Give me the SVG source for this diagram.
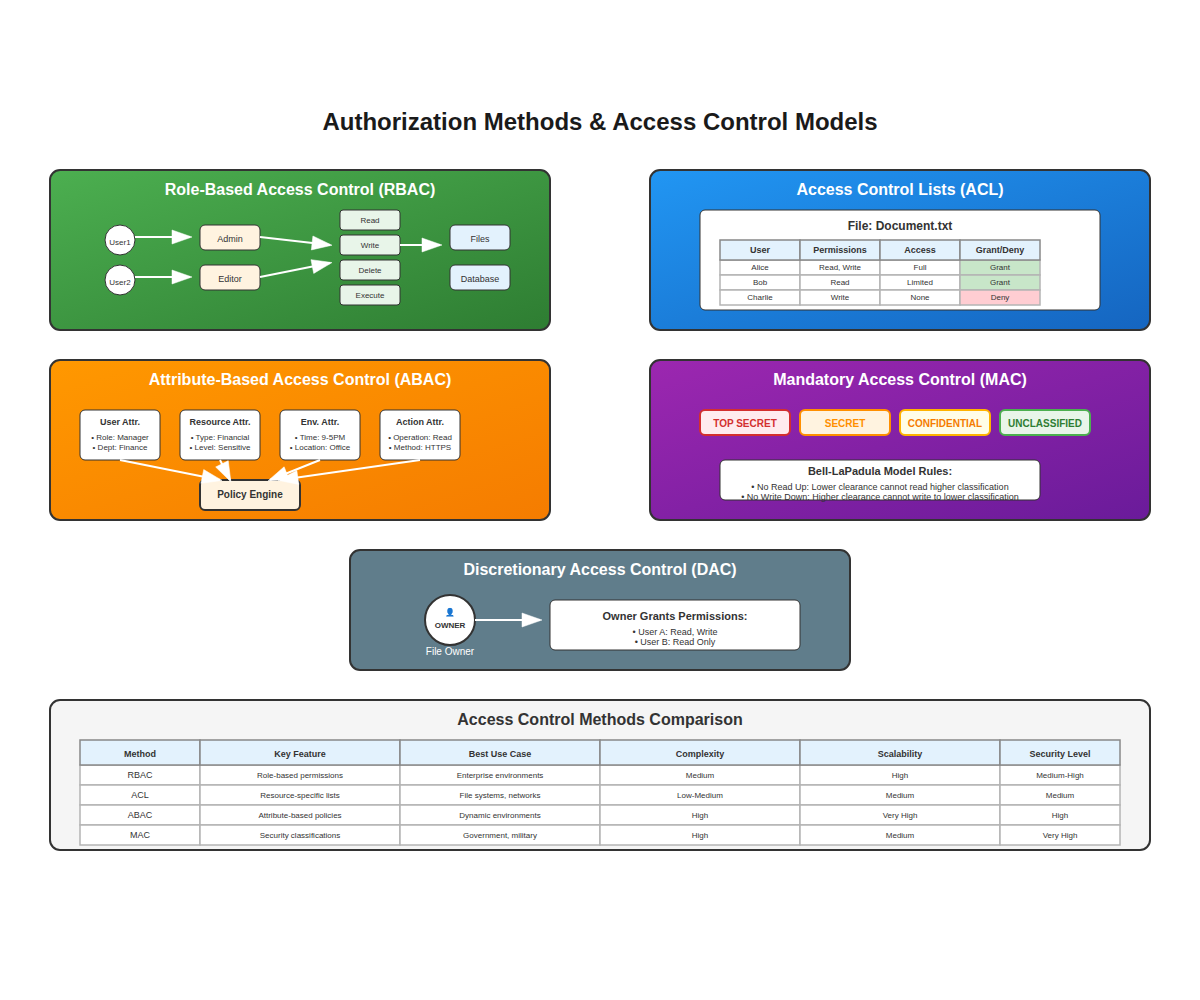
<svg xmlns="http://www.w3.org/2000/svg" width="1200" height="1000" viewBox="0 0 1200 1000">
<style>
text{font-family:"Liberation Sans",Arial,sans-serif;text-anchor:middle;fill:#333}
.panel{stroke:#333;stroke-width:2}
.ttl{font-size:16px;font-weight:bold;fill:#fff}
.n{stroke:#333;stroke-width:1}
.s9{font-size:9px}
.s8{font-size:8px}
.b9{font-size:9px;font-weight:bold}
.b12{font-size:12px;font-weight:bold}
.cn{stroke:#fff;stroke-width:2;fill:none}
.th{fill:#e3f2fd;stroke:#888;stroke-width:1.5}
.td{fill:#fff;stroke:#b4b4b4;stroke-width:1.5}
.lv{stroke-width:2}
.lt{font-size:10px;font-weight:bold}
</style>
<defs>
<linearGradient id="gR" x1="0" y1="0" x2="1" y2="1"><stop offset="0" stop-color="#4caf50"/><stop offset="1" stop-color="#2e7d32"/></linearGradient>
<linearGradient id="gA" x1="0" y1="0" x2="1" y2="1"><stop offset="0" stop-color="#2196f3"/><stop offset="1" stop-color="#1565c0"/></linearGradient>
<linearGradient id="gB" x1="0" y1="0" x2="1" y2="1"><stop offset="0" stop-color="#ff9800"/><stop offset="1" stop-color="#f57c00"/></linearGradient>
<linearGradient id="gM" x1="0" y1="0" x2="1" y2="1"><stop offset="0" stop-color="#9c27b0"/><stop offset="1" stop-color="#6a1b9a"/></linearGradient>
<marker id="arr" markerWidth="10" markerHeight="7" refX="9" refY="3.5" orient="auto" overflow="visible"><polygon points="0 0,10 3.5,0 7" fill="#fff" stroke="#fff" stroke-width="0.25"/></marker>
</defs>
<rect width="1200" height="1000" fill="#fff"/>
<text id="title" x="600" y="130" font-size="24" font-weight="bold" style="fill:#1a1a1a">Authorization Methods &amp; Access Control Models</text>

<g id="rbac">
<rect class="panel" x="50" y="170" width="500" height="160" rx="10" fill="url(#gR)"/>
<text class="ttl" x="300" y="195">Role-Based Access Control (RBAC)</text>
<g id="user1"><circle class="n" cx="120" cy="240" r="15" fill="#fff"/><text class="s8" x="120" y="245">User1</text></g>
<g id="user2"><circle class="n" cx="120" cy="280" r="15" fill="#fff"/><text class="s8" x="120" y="285">User2</text></g>
<g id="admin"><rect class="n" x="200" y="225" width="60" height="25" rx="5" fill="#fff3e0"/><text class="s9" x="230" y="242">Admin</text></g>
<g id="editor"><rect class="n" x="200" y="265" width="60" height="25" rx="5" fill="#fff3e0"/><text class="s9" x="230" y="282">Editor</text></g>
<g id="read"><rect class="n" x="340" y="210" width="60" height="20" rx="3" fill="#e8f5e9"/><text class="s8" x="370" y="223">Read</text></g>
<g id="write"><rect class="n" x="340" y="235" width="60" height="20" rx="3" fill="#e8f5e9"/><text class="s8" x="370" y="248">Write</text></g>
<g id="delete"><rect class="n" x="340" y="260" width="60" height="20" rx="3" fill="#e8f5e9"/><text class="s8" x="370" y="273">Delete</text></g>
<g id="execute"><rect class="n" x="340" y="285" width="60" height="20" rx="3" fill="#e8f5e9"/><text class="s8" x="370" y="298">Execute</text></g>
<g id="files"><rect class="n" x="450" y="225" width="60" height="25" rx="5" fill="#e3f2fd"/><text class="s9" x="480" y="242">Files</text></g>
<g id="database"><rect class="n" x="450" y="265" width="60" height="25" rx="5" fill="#e3f2fd"/><text class="s9" x="480" y="282">Database</text></g>
</g>

<g id="acl">
<rect class="panel" x="650" y="170" width="500" height="160" rx="10" fill="url(#gA)"/>
<text class="ttl" x="900" y="195">Access Control Lists (ACL)</text>
<rect class="n" x="700" y="210" width="400" height="100" rx="5" fill="#fff"/>
<text class="b12" x="900" y="230">File: Document.txt</text>
<rect class="td" x="720" y="260" width="80" height="15"/><text class="s8" x="760" y="270">Alice</text>
<rect class="td" x="800" y="260" width="80" height="15"/><text class="s8" x="840" y="270">Read, Write</text>
<rect class="td" x="880" y="260" width="80" height="15"/><text class="s8" x="920" y="270">Full</text>
<rect class="td" x="960" y="260" width="80" height="15" style="fill:#c8e6c9"/><text class="s8" x="1000" y="270">Grant</text>
<rect class="td" x="720" y="275" width="80" height="15"/><text class="s8" x="760" y="285">Bob</text>
<rect class="td" x="800" y="275" width="80" height="15"/><text class="s8" x="840" y="285">Read</text>
<rect class="td" x="880" y="275" width="80" height="15"/><text class="s8" x="920" y="285">Limited</text>
<rect class="td" x="960" y="275" width="80" height="15" style="fill:#c8e6c9"/><text class="s8" x="1000" y="285">Grant</text>
<rect class="td" x="720" y="290" width="80" height="15"/><text class="s8" x="760" y="300">Charlie</text>
<rect class="td" x="800" y="290" width="80" height="15"/><text class="s8" x="840" y="300">Write</text>
<rect class="td" x="880" y="290" width="80" height="15"/><text class="s8" x="920" y="300">None</text>
<rect class="td" x="960" y="290" width="80" height="15" style="fill:#ffcdd2"/><text class="s8" x="1000" y="300">Deny</text>
<rect class="th" x="720" y="240" width="80" height="20"/><text class="b9" x="760" y="253">User</text>
<rect class="th" x="800" y="240" width="80" height="20"/><text class="b9" x="840" y="253">Permissions</text>
<rect class="th" x="880" y="240" width="80" height="20"/><text class="b9" x="920" y="253">Access</text>
<rect class="th" x="960" y="240" width="80" height="20"/><text class="b9" x="1000" y="253">Grant/Deny</text>
</g>

<g id="abac">
<rect class="panel" x="50" y="360" width="500" height="160" rx="10" fill="url(#gB)"/>
<text class="ttl" x="300" y="385">Attribute-Based Access Control (ABAC)</text>
<g id="user-attr"><rect class="n" x="80" y="410" width="80" height="50" rx="5" fill="#fff"/><text class="b9" x="120" y="425">User Attr.</text><text class="s8" x="120" y="440">• Role: Manager</text><text class="s8" x="120" y="450">• Dept: Finance</text></g>
<g id="resource-attr"><rect class="n" x="180" y="410" width="80" height="50" rx="5" fill="#fff"/><text class="b9" x="220" y="425">Resource Attr.</text><text class="s8" x="220" y="440">• Type: Financial</text><text class="s8" x="220" y="450">• Level: Sensitive</text></g>
<g id="env-attr"><rect class="n" x="280" y="410" width="80" height="50" rx="5" fill="#fff"/><text class="b9" x="320" y="425">Env. Attr.</text><text class="s8" x="320" y="440">• Time: 9-5PM</text><text class="s8" x="320" y="450">• Location: Office</text></g>
<g id="action-attr"><rect class="n" x="380" y="410" width="80" height="50" rx="5" fill="#fff"/><text class="b9" x="420" y="425">Action Attr.</text><text class="s8" x="420" y="440">• Operation: Read</text><text class="s8" x="420" y="450">• Method: HTTPS</text></g>
<g id="policy-engine"><rect x="200" y="480" width="100" height="30" rx="5" fill="#fff3e0" stroke="#333" stroke-width="2"/><text x="250" y="498" style="font-size:10px;font-weight:bold">Policy Engine</text></g>
</g>

<g id="mac">
<rect class="panel" x="650" y="360" width="500" height="160" rx="10" fill="url(#gM)"/>
<text class="ttl" x="900" y="385">Mandatory Access Control (MAC)</text>
<g id="top-secret"><rect class="lv" x="700" y="410" width="90" height="25" rx="5" fill="#ffebee" stroke="#d32f2f"/><text class="lt" x="745" y="427" style="fill:#d32f2f">TOP SECRET</text></g>
<g id="secret"><rect class="lv" x="800" y="410" width="90" height="25" rx="5" fill="#fff3e0" stroke="#ff8f00"/><text class="lt" x="845" y="427" style="fill:#ff8f00">SECRET</text></g>
<g id="confidential"><rect class="lv" x="900" y="410" width="90" height="25" rx="5" fill="#fffde7" stroke="#ffb300"/><text class="lt" x="945" y="427" style="fill:#f57c00">CONFIDENTIAL</text></g>
<g id="unclassified"><rect class="lv" x="1000" y="410" width="90" height="25" rx="5" fill="#e8f5e9" stroke="#4caf50"/><text class="lt" x="1045" y="427" style="fill:#2e7d32">UNCLASSIFIED</text></g>
<g id="rules"><rect class="n" x="720" y="460" width="320" height="40" rx="5" fill="#fff"/><text x="880" y="475" style="font-size:11px;font-weight:bold">Bell-LaPadula Model Rules:</text><text class="s9" x="880" y="490">• No Read Up: Lower clearance cannot read higher classification</text><text class="s9" x="880" y="500">• No Write Down: Higher clearance cannot write to lower classification</text></g>
</g>

<g id="dac">
<rect class="panel" x="350" y="550" width="500" height="120" rx="10" fill="#607d8b"/>
<text class="ttl" x="600" y="575">Discretionary Access Control (DAC)</text>
<g id="owner"><circle cx="450" cy="620" r="25" fill="#fff" stroke="#333" stroke-width="2"/><text x="450" y="615" style="font-size:8px;font-family:'Noto Sans CJK SC','DejaVu Sans',sans-serif">👤</text><text class="s8" x="450" y="628" style="font-weight:bold">OWNER</text><text x="450" y="655" style="font-size:10px;fill:#fff">File Owner</text></g>
<g id="grants"><rect class="n" x="550" y="600" width="250" height="50" rx="5" fill="#fff"/><text x="675" y="620" style="font-size:11px;font-weight:bold">Owner Grants Permissions:</text><text class="s9" x="675" y="635">• User A: Read, Write</text><text class="s9" x="675" y="645">• User B: Read Only</text></g>
</g>

<g id="comparison">
<rect class="panel" x="50" y="700" width="1100" height="150" rx="10" fill="#f5f5f5"/>
<text x="600" y="725" font-size="16" font-weight="bold">Access Control Methods Comparison</text>

<rect class="td" x="80" y="765" width="120" height="20"/><rect class="td" x="200" y="765" width="200" height="20"/><rect class="td" x="400" y="765" width="200" height="20"/><rect class="td" x="600" y="765" width="200" height="20"/><rect class="td" x="800" y="765" width="200" height="20"/><rect class="td" x="1000" y="765" width="120" height="20"/>
<text class="s9" x="140" y="778">RBAC</text><text class="s8" x="300" y="778">Role-based permissions</text><text class="s8" x="500" y="778">Enterprise environments</text><text class="s8" x="700" y="778">Medium</text><text class="s8" x="900" y="778">High</text><text class="s8" x="1060" y="778">Medium-High</text>

<rect class="td" x="80" y="785" width="120" height="20"/><rect class="td" x="200" y="785" width="200" height="20"/><rect class="td" x="400" y="785" width="200" height="20"/><rect class="td" x="600" y="785" width="200" height="20"/><rect class="td" x="800" y="785" width="200" height="20"/><rect class="td" x="1000" y="785" width="120" height="20"/>
<text class="s9" x="140" y="798">ACL</text><text class="s8" x="300" y="798">Resource-specific lists</text><text class="s8" x="500" y="798">File systems, networks</text><text class="s8" x="700" y="798">Low-Medium</text><text class="s8" x="900" y="798">Medium</text><text class="s8" x="1060" y="798">Medium</text>

<rect class="td" x="80" y="805" width="120" height="20"/><rect class="td" x="200" y="805" width="200" height="20"/><rect class="td" x="400" y="805" width="200" height="20"/><rect class="td" x="600" y="805" width="200" height="20"/><rect class="td" x="800" y="805" width="200" height="20"/><rect class="td" x="1000" y="805" width="120" height="20"/>
<text class="s9" x="140" y="818">ABAC</text><text class="s8" x="300" y="818">Attribute-based policies</text><text class="s8" x="500" y="818">Dynamic environments</text><text class="s8" x="700" y="818">High</text><text class="s8" x="900" y="818">Very High</text><text class="s8" x="1060" y="818">High</text>

<rect class="td" x="80" y="825" width="120" height="20"/><rect class="td" x="200" y="825" width="200" height="20"/><rect class="td" x="400" y="825" width="200" height="20"/><rect class="td" x="600" y="825" width="200" height="20"/><rect class="td" x="800" y="825" width="200" height="20"/><rect class="td" x="1000" y="825" width="120" height="20"/>
<text class="s9" x="140" y="838">MAC</text><text class="s8" x="300" y="838">Security classifications</text><text class="s8" x="500" y="838">Government, military</text><text class="s8" x="700" y="838">High</text><text class="s8" x="900" y="838">Medium</text><text class="s8" x="1060" y="838">Very High</text>

<rect class="th" x="80" y="740" width="120" height="25"/><text class="b9" x="140" y="757">Method</text>
<rect class="th" x="200" y="740" width="200" height="25"/><text class="b9" x="300" y="757">Key Feature</text>
<rect class="th" x="400" y="740" width="200" height="25"/><text class="b9" x="500" y="757">Best Use Case</text>
<rect class="th" x="600" y="740" width="200" height="25"/><text class="b9" x="700" y="757">Complexity</text>
<rect class="th" x="800" y="740" width="200" height="25"/><text class="b9" x="900" y="757">Scalability</text>
<rect class="th" x="1000" y="740" width="120" height="25"/><text class="b9" x="1060" y="757">Security Level</text>
</g>

<g id="connectors">
<line class="cn" x1="135" y1="237" x2="190" y2="237" marker-end="url(#arr)"/>
<line class="cn" x1="135" y1="277" x2="190" y2="277" marker-end="url(#arr)"/>
<line class="cn" x1="260" y1="237" x2="330" y2="245" marker-end="url(#arr)"/>
<line class="cn" x1="260" y1="277" x2="330" y2="263" marker-end="url(#arr)"/>
<line class="cn" x1="400" y1="245" x2="440" y2="245" marker-end="url(#arr)"/>
<line class="cn" x1="120" y1="460" x2="220" y2="480" marker-end="url(#arr)"/>
<line class="cn" x1="220" y1="460" x2="230" y2="480" marker-end="url(#arr)"/>
<line class="cn" x1="320" y1="460" x2="270" y2="480" marker-end="url(#arr)"/>
<line class="cn" x1="420" y1="460" x2="280" y2="480" marker-end="url(#arr)"/>
<line class="cn" x1="475" y1="620" x2="540" y2="620" marker-end="url(#arr)"/>
</g>
</svg>
